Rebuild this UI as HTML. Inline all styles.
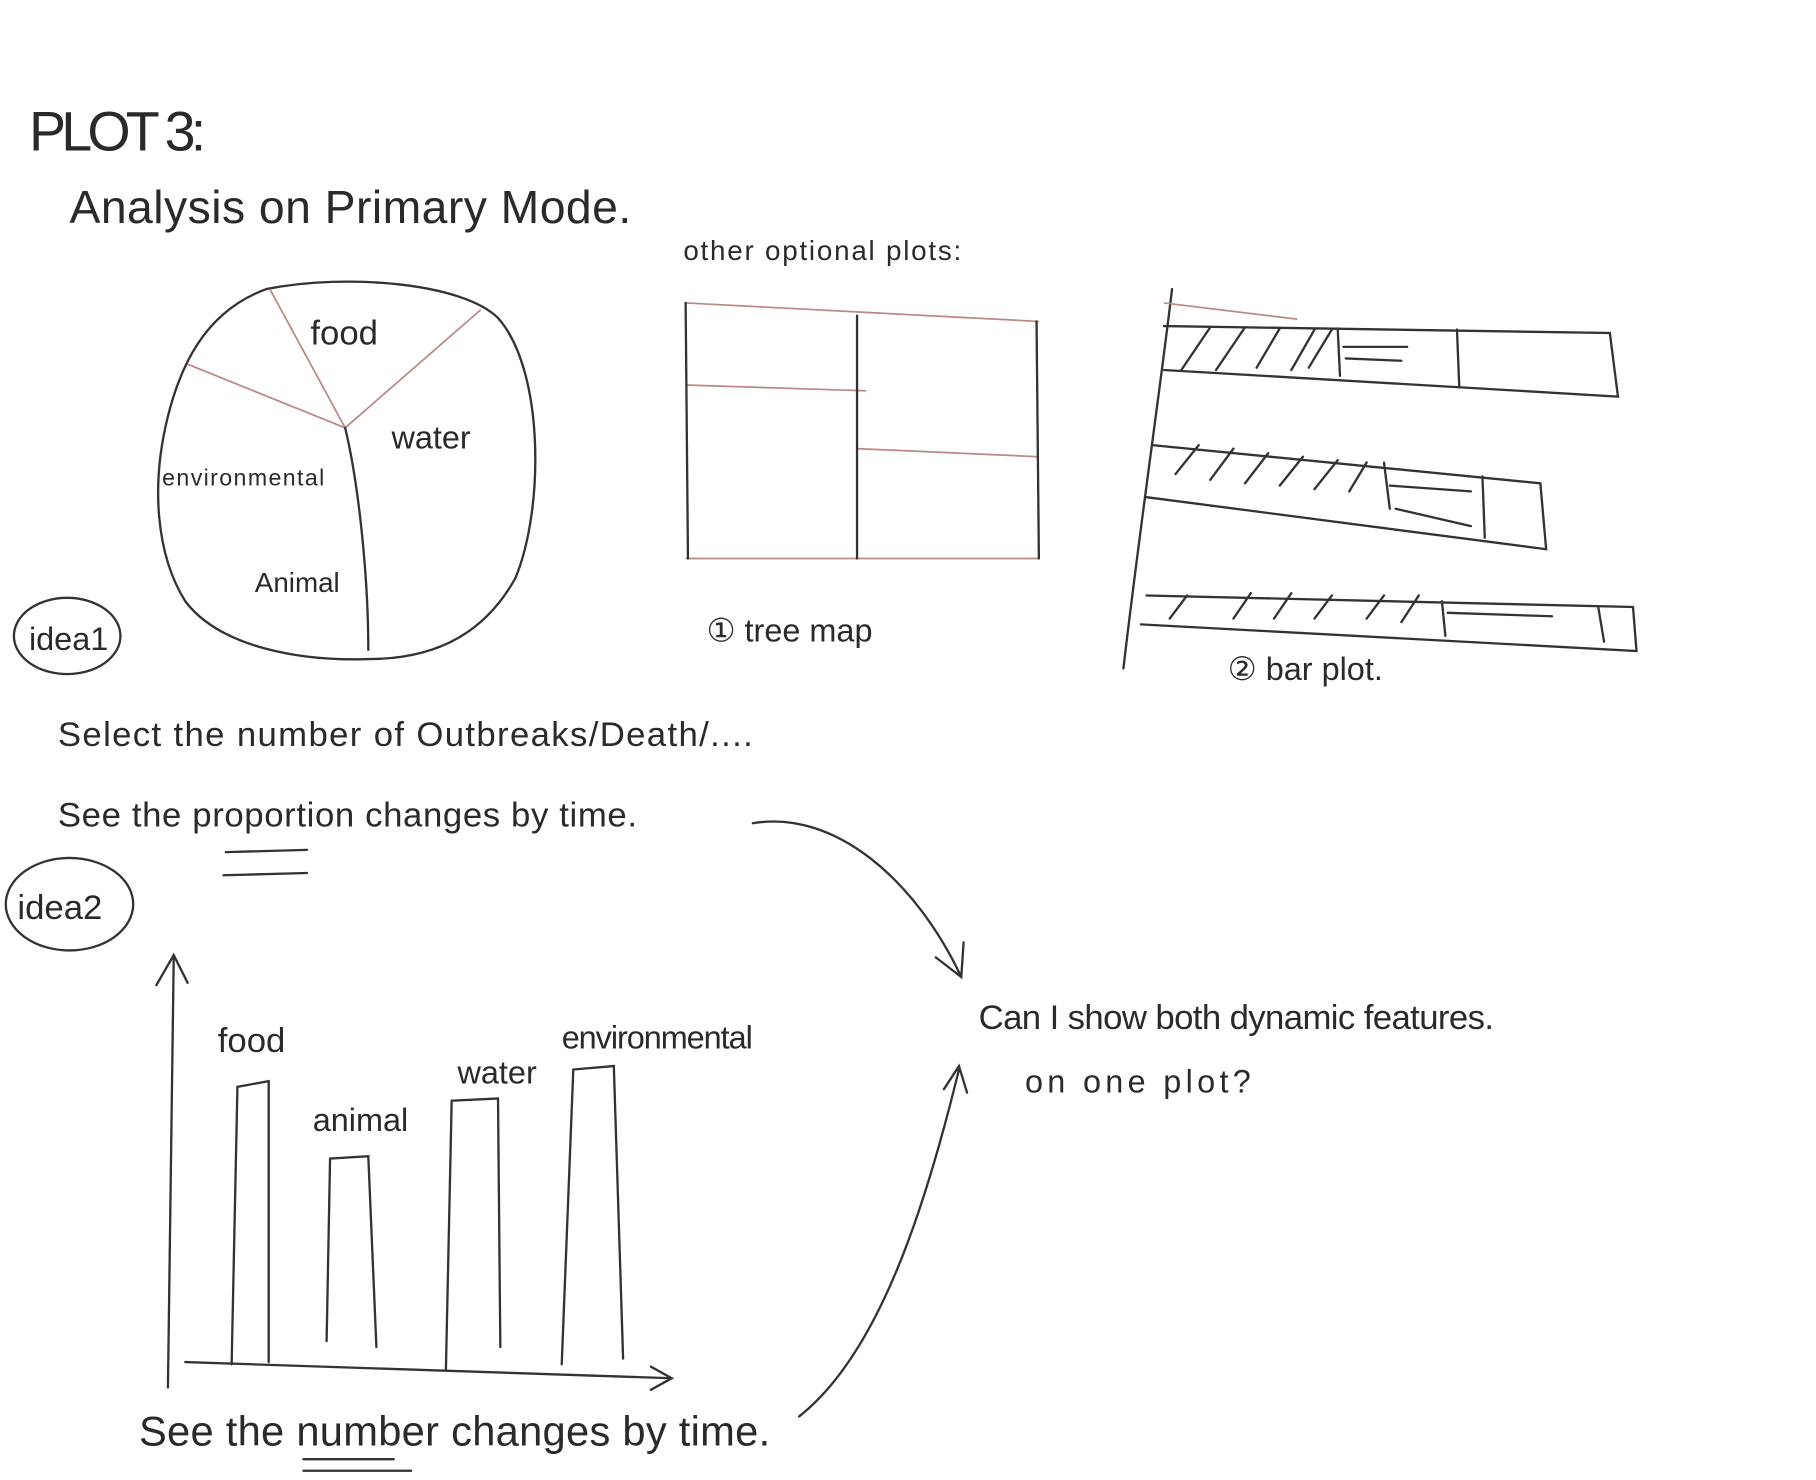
<!DOCTYPE html>
<html><head><meta charset="utf-8"><style>
html,body{margin:0;padding:0;background:#fff;}
svg{display:block;}
text{font-family:"Liberation Sans",sans-serif;fill:#2a2a2a;font-weight:normal;}
.l{stroke:#333;stroke-width:2;fill:none;stroke-linecap:round;}
.r{stroke:#b88;stroke-width:1.5;fill:none;}
</style></head><body>
<svg width="1816" height="1480" viewBox="0 0 1568 1280" preserveAspectRatio="none">
<rect width="1568" height="1280" fill="#fff"/>
<text x="25" y="130" font-size="48" letter-spacing="2" textLength="155">PLOT 3:</text>
<text x="60" y="193" font-size="40" textLength="485">Analysis on Primary Mode.</text>

<!-- pie -->
<path class="l" d="M230,250 C300,236 400,245 430,275 C470,320 470,440 445,500 C420,545 380,570 318,570 C260,572 190,560 160,520 C135,480 130,420 145,360 C155,320 175,270 230,250"/>
<path class="r" d="M298,370 L233,250 M298,370 L415,268 M298,370 L162,315"/>
<path class="l" d="M298,370 C310,420 318,500 318,562"/>
<text x="268" y="298" font-size="30">food</text>
<text x="338" y="388" font-size="28">water</text>
<text x="140" y="420" font-size="20" textLength="140">environmental</text>
<text x="220" y="512" font-size="24">Animal</text>

<ellipse class="l" cx="58" cy="550" rx="46" ry="33"/>
<text x="25" y="562" font-size="28">idea1</text>
<text x="50" y="645" font-size="30" textLength="600">Select the number of Outbreaks/Death/....</text>
<text x="50" y="715" font-size="30" textLength="500">See the proportion changes by time.</text>
<path class="l" d="M195,737 L265,735 M193,757 L265,755"/>
<ellipse class="l" cx="60" cy="782" rx="55" ry="40"/>
<text x="15" y="795" font-size="30">idea2</text>

<!-- bar chart -->
<path class="l" d="M145,1200 L150,828 M135,852 L150,826 L162,850"/>
<path class="l" d="M160,1178 L580,1192 M562,1182 L580,1192 L562,1202"/>
<path class="l" d="M200,1180 L205,940 L232,935 L232,1178"/>
<path class="l" d="M282,1160 L285,1002 L318,1000 L325,1165"/>
<path class="l" d="M385,1185 L390,952 L430,950 L432,1165"/>
<path class="l" d="M485,1180 L495,925 L530,922 L538,1175"/>
<text x="188" y="910" font-size="30">food</text>
<text x="270" y="978" font-size="28">animal</text>
<text x="395" y="937" font-size="28">water</text>
<text x="485" y="907" font-size="28" textLength="165">environmental</text>
<text x="120" y="1250" font-size="36" textLength="545">See the number changes by time.</text>
<path class="l" d="M262,1262 L340,1262 M262,1272 L355,1272"/>

<!-- treemap -->
<text x="590" y="225" font-size="24" textLength="240">other optional plots:</text>
<path class="r" d="M592,262 L897,278 M592,333 L748,338 M740,388 L897,395 M592,483 L897,483"/>
<path class="l" d="M592,262 L594,483 M740,273 L740,483 M895,278 L897,483"/>
<text x="610" y="555" font-size="28">① tree map</text>

<!-- bar plot -->
<path class="l" d="M1012,250 C1000,350 985,450 970,578"/>
<path class="l" d="M1005,282 L1390,288 L1397,343 L1005,320 M1155,284 L1157,325 M1258,285 L1260,335 M1160,300 L1215,300 M1162,310 L1210,312"/>
<path class="r" d="M1005,262 L1120,276"/>
<path class="l" d="M1020,320 L1045,283 M1050,320 L1075,283 M1085,318 L1105,284 M1115,320 L1135,285 M1130,318 L1150,285"/>
<path class="l" d="M995,385 L1330,418 L1335,475 L990,430 M1195,400 L1200,440 M1280,412 L1282,465 M1200,420 L1270,425 M1205,440 L1270,455"/>
<path class="l" d="M1015,410 L1035,385 M1045,415 L1065,388 M1075,418 L1095,392 M1105,420 L1125,395 M1135,423 L1155,398 M1165,425 L1180,400"/>
<path class="l" d="M990,515 L1410,525 L1413,563 L985,540 M1245,520 L1248,550 M1380,525 L1385,555 M1250,530 L1340,533"/>
<path class="l" d="M1010,535 L1025,515 M1065,535 L1080,513 M1100,535 L1115,513 M1135,535 L1150,515 M1180,535 L1195,515 M1210,538 L1225,515"/>
<text x="1060" y="588" font-size="28">② bar plot.</text>

<!-- arrows -->
<path class="l" d="M650,712 C720,700 790,760 830,845 M808,828 L830,845 L832,815"/>
<path class="l" d="M690,1225 C760,1170 800,1040 828,925 M815,942 L828,922 L835,945"/>
<text x="845" y="890" font-size="30" textLength="445">Can I show both dynamic features.</text>
<text x="885" y="945" font-size="28" textLength="195">on one plot?</text>
</svg>
</body></html>
